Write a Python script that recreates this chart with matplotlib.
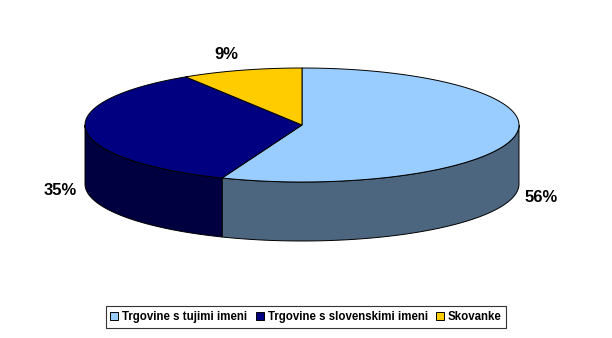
import numpy as np
import matplotlib
matplotlib.use("Agg")
import matplotlib.pyplot as plt
from matplotlib.patches import Polygon
from matplotlib.lines import Line2D
from matplotlib.font_manager import FontProperties

categories = ["Trgovine s tujimi imeni", "Trgovine s slovenskimi imeni", "Skovanke"]
shares = [56, 35, 9]
labels = ["56%", "35%", "9%"]
top_colors = ["#99CCFF", "#000080", "#FFCC00"]
side_colors = ["#4C6680", "#000040", "#806600"]

fig = plt.figure(figsize=(6.12, 3.38), dpi=100)
ax = fig.add_axes([0, 0, 1, 1])
ax.set_xlim(0, 612)
ax.set_ylim(338, 0)
ax.axis("off")

# layout of the projected pie (pixels)
cx, cy, a, b, depth = 302, 125, 217, 57, 59

total = float(sum(shares))
start = -90.0
spans = []
for v in shares:
    sweep = 360.0 * v / total
    spans.append((start, start + sweep))
    start += sweep


def arc(t0, t1, n=120, dy=0.0):
    t = np.radians(np.linspace(t0, t1, n))
    return np.column_stack([cx + a * np.cos(t), cy + b * np.sin(t) + dy])


# side faces (front half: param angle 0..180, y downward)
for (t0, t1), sc in zip(spans, side_colors):
    for off in (0, 360, -360):
        lo = max(t0, 0 + off)
        hi = min(t1, 180 + off)
        if hi > lo:
            top = arc(lo, hi)
            bot = arc(lo, hi, dy=depth)[::-1]
            ax.add_patch(Polygon(np.vstack([top, bot]), closed=True,
                                 facecolor=sc, edgecolor="black", linewidth=0.7,
                                 joinstyle="miter"))

# top faces
for (t0, t1), tc in zip(spans, top_colors):
    pts = np.vstack([[cx, cy], arc(t0, t1)])
    ax.add_patch(Polygon(pts, closed=True, facecolor=tc, edgecolor="black",
                         linewidth=0.7, joinstyle="miter"))

# data labels
lab_font = FontProperties(family=["Liberation Sans", "DejaVu Sans"], weight="bold", size=12)
for (t0, t1), lab in zip(spans, labels):
    tm = np.radians((t0 + t1) / 2.0)
    x = cx + (a + 26) * np.cos(tm)
    y = cy + (b + 16) * np.sin(tm)
    if np.sin(tm) > -0.2:
        y += depth
    else:
        x -= 8
    ax.text(x, y, lab, ha="center", va="center", fontproperties=lab_font, color="black")

# legend
handles = [Line2D([], [], marker="s", linestyle="none", markerfacecolor=c,
                  markeredgecolor="black", markersize=5.2, markeredgewidth=0.7)
           for c in top_colors]
leg = fig.legend(handles, categories, loc="center",
                 bbox_to_anchor=(306 / 612, 1 - 317 / 338), ncol=3,
                 frameon=True, fancybox=False, edgecolor="black",
                 prop=FontProperties(family=["Liberation Sans", "DejaVu Sans"], weight="bold", size=8.3),
                 handlelength=0.7, handletextpad=0.35, columnspacing=0.7,
                 borderpad=0.4, borderaxespad=0)
leg.get_frame().set_linewidth(0.8)

fig.savefig("out.png", dpi=100, facecolor="white")
